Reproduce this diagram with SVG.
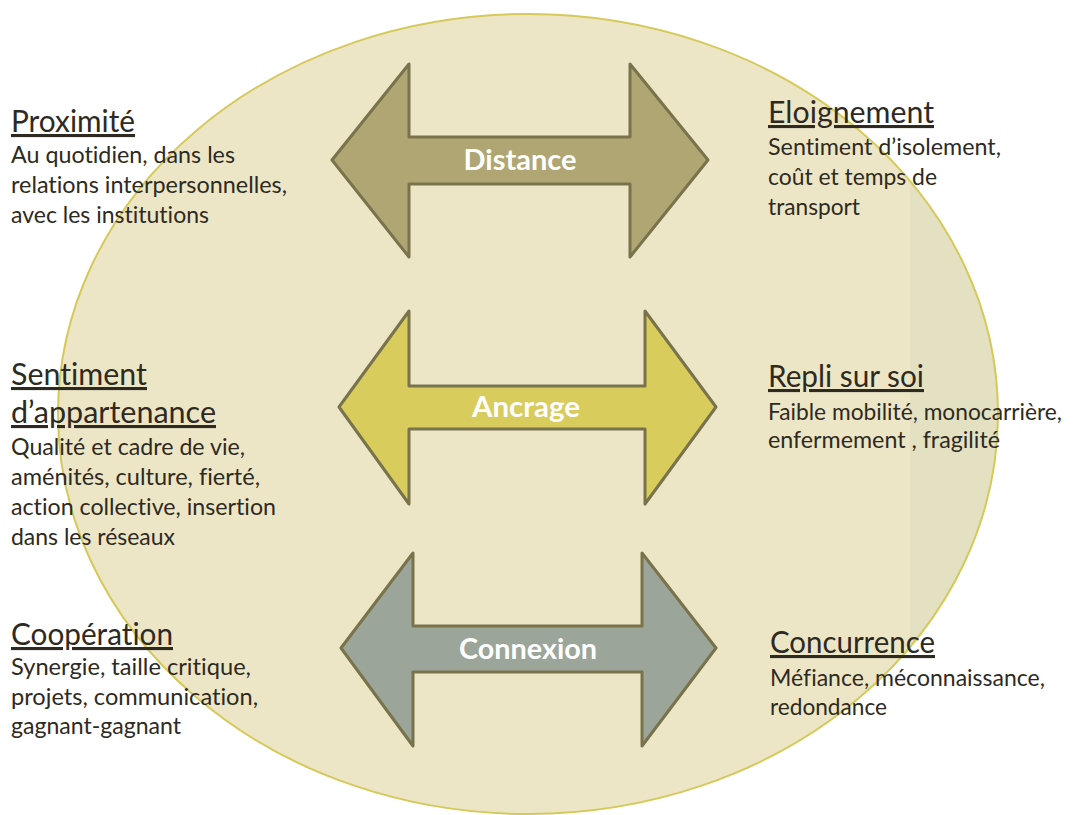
<svg xmlns="http://www.w3.org/2000/svg" width="1073" height="815" viewBox="0 0 1073 815">
<style>
.arrow{stroke:#79734c;stroke-width:3;stroke-linejoin:round}
.lbl{font-family:Lato,"Liberation Sans",sans-serif;font-weight:bold;font-size:28px;fill:#ffffff;text-anchor:middle;font-variant-ligatures:none}
.h{font-family:Lato,"Liberation Sans",sans-serif;font-size:31px;fill:#2e2a22;text-decoration:underline;font-variant-ligatures:none}
.b{font-family:Lato,"Liberation Sans",sans-serif;font-size:24px;fill:#2e2a22;font-variant-ligatures:none}
.bs{font-size:22.5px}
</style>
<defs>
<clipPath id="ell"><ellipse cx="528" cy="414" rx="470" ry="400"/></clipPath>
</defs>
<rect width="1073" height="815" fill="#ffffff"/>
<g id="background">
<ellipse cx="528" cy="414" rx="470" ry="400" fill="#ede6c6"/>
<rect x="910" y="0" width="163" height="815" fill="#e4e1c2" clip-path="url(#ell)"/>
<ellipse cx="528" cy="414" rx="470" ry="400" fill="none" stroke="#d5c95a" stroke-width="2"/>
</g>
<g id="connectors">
<g id="arrow-distance">
<polygon class="arrow" fill="#b0a674" points="332,160 409,64 409,137 630,137 630,64 708,160 630,257 630,184 409,184 409,257"/>
<text class="lbl" x="520" y="170" textLength="113" lengthAdjust="spacingAndGlyphs">Distance</text>
</g>
<g id="arrow-ancrage">
<polygon class="arrow" fill="#d8cc5c" points="339,407 409,311 409,386 645,386 645,311 716,407 645,504 645,429 409,429 409,504"/>
<text class="lbl" x="526" y="417" textLength="108" lengthAdjust="spacingAndGlyphs">Ancrage</text>
</g>
<g id="arrow-connexion">
<polygon class="arrow" fill="#9ba59a" points="341,648 413,553 413,626 642,626 642,553 716,648 642,746 642,672 413,672 413,746"/>
<text class="lbl" x="528" y="659" textLength="138" lengthAdjust="spacingAndGlyphs">Connexion</text>
</g>
</g>
<g id="proximite">
<text class="h" x="11" y="132" textLength="124" lengthAdjust="spacingAndGlyphs">Proximité</text>
<text class="b" x="11" y="163" textLength="224" lengthAdjust="spacingAndGlyphs">Au quotidien, dans les</text>
<text class="b" x="11" y="193" textLength="276" lengthAdjust="spacingAndGlyphs">relations interpersonnelles,</text>
<text class="b" x="11" y="223" textLength="198" lengthAdjust="spacingAndGlyphs">avec les institutions</text>
</g>
<g id="appartenance">
<text class="h" x="11" y="385" textLength="136" lengthAdjust="spacingAndGlyphs">Sentiment</text>
<text class="h" x="11" y="423" textLength="205" lengthAdjust="spacingAndGlyphs">d’appartenance</text>
<text class="b" x="11" y="455" textLength="234" lengthAdjust="spacingAndGlyphs">Qualité et cadre de vie,</text>
<text class="b" x="11" y="485" textLength="249" lengthAdjust="spacingAndGlyphs">aménités, culture, fierté,</text>
<text class="b" x="11" y="515" textLength="265" lengthAdjust="spacingAndGlyphs">action collective, insertion</text>
<text class="b" x="11" y="545" textLength="164" lengthAdjust="spacingAndGlyphs">dans les réseaux</text>
</g>
<g id="cooperation">
<text class="h" x="11" y="645" textLength="162" lengthAdjust="spacingAndGlyphs">Coopération</text>
<text class="b" x="11" y="675" textLength="240" lengthAdjust="spacingAndGlyphs">Synergie, taille critique,</text>
<text class="b" x="11" y="705" textLength="247" lengthAdjust="spacingAndGlyphs">projets, communication,</text>
<text class="b" x="11" y="734" textLength="170" lengthAdjust="spacingAndGlyphs">gagnant-gagnant</text>
</g>
<g id="eloignement">
<text class="h" x="768" y="123" textLength="166" lengthAdjust="spacingAndGlyphs">Eloignement</text>
<text class="b" x="768" y="155" textLength="233" lengthAdjust="spacingAndGlyphs">Sentiment d’isolement,</text>
<text class="b" x="768" y="185" textLength="169" lengthAdjust="spacingAndGlyphs">coût et temps de</text>
<text class="b" x="768" y="215" textLength="92" lengthAdjust="spacingAndGlyphs">transport</text>
</g>
<g id="repli">
<text class="h" x="768" y="387" textLength="156" lengthAdjust="spacingAndGlyphs">Repli sur soi</text>
<text class="b bs" x="768" y="420" textLength="294" lengthAdjust="spacingAndGlyphs">Faible mobilité, monocarrière,</text>
<text class="b" x="768" y="448" textLength="232" lengthAdjust="spacingAndGlyphs">enfermement , fragilité</text>
</g>
<g id="concurrence">
<text class="h" x="770" y="653" textLength="165" lengthAdjust="spacingAndGlyphs">Concurrence</text>
<text class="b" x="770" y="686" textLength="275" lengthAdjust="spacingAndGlyphs">Méfiance, méconnaissance,</text>
<text class="b" x="770" y="715" textLength="117" lengthAdjust="spacingAndGlyphs">redondance</text>
</g>
</svg>
